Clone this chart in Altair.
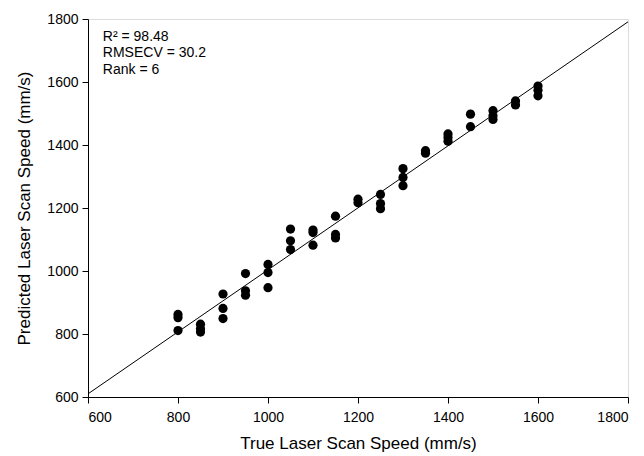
import altair as alt
import pandas as pd

true_speed = [800, 800, 800, 850, 850, 850, 900, 900, 900, 950, 950, 950,
              1000, 1000, 1000, 1050, 1050, 1050, 1100, 1100, 1100, 1150, 1150, 1150,
              1200, 1200, 1250, 1250, 1250, 1300, 1300, 1300, 1350, 1350,
              1400, 1400, 1400, 1450, 1450, 1500, 1500, 1500, 1550, 1550,
              1600, 1600, 1600]
pred_speed = [862, 852, 811, 831, 817, 806, 927, 881, 849, 992, 937, 923,
              1021, 995, 947, 1133, 1096, 1068, 1130, 1122, 1082, 1174, 1116, 1105,
              1228, 1217, 1243, 1214, 1198, 1325, 1297, 1271, 1382, 1374,
              1435, 1424, 1412, 1498, 1458, 1509, 1493, 1481, 1540, 1527,
              1587, 1574, 1556]

line_x = [600, 1800]
line_y = [610, 1791]

notes = ["R² = 98.48", "RMSECV = 30.2", "Rank = 6"]
note_x = [633, 633, 633]
note_y = [1743, 1692, 1638]

FONT = "Liberation Sans"

pts = pd.DataFrame({"x": true_speed, "y": pred_speed})
ln = pd.DataFrame({"x": line_x, "y": line_y})
nt = pd.DataFrame({"x": note_x, "y": note_y, "t": notes})

xs = alt.Scale(domain=[600, 1800], nice=False, zero=False)
ys = alt.Scale(domain=[600, 1800], nice=False, zero=False)

xaxis = alt.Axis(values=[600, 800, 1000, 1200, 1400, 1600, 1800], format="d",
                 title="True Laser Scan Speed (mm/s)",
                 grid=False, domainColor="black", tickColor="black", tickSize=6,
                 labelFont=FONT, labelFontSize=14, labelColor="black", labelPadding=7,
                 titleFont=FONT, titleFontSize=17, titleFontWeight="normal", titleColor="black",
                 titlePadding=11)
yaxis = alt.Axis(values=[600, 800, 1000, 1200, 1400, 1600, 1800], format="d",
                 title="Predicted Laser Scan Speed (mm/s)",
                 grid=False, domainColor="black", tickColor="black", tickSize=6,
                 labelFont=FONT, labelFontSize=14, labelColor="black", labelPadding=4,
                 titleFont=FONT, titleFontSize=17, titleFontWeight="normal", titleColor="black",
                 titlePadding=13)

line = alt.Chart(ln).mark_line(color="black", strokeWidth=1).encode(
    x=alt.X("x:Q", scale=xs, axis=xaxis),
    y=alt.Y("y:Q", scale=ys, axis=yaxis),
)
points = alt.Chart(pts).mark_circle(color="black", opacity=1, size=85).encode(
    x=alt.X("x:Q", scale=xs),
    y=alt.Y("y:Q", scale=ys),
)
text = alt.Chart(nt).mark_text(align="left", baseline="middle", font=FONT, fontSize=14, color="black").encode(
    x=alt.X("x:Q", scale=xs),
    y=alt.Y("y:Q", scale=ys),
    text="t:N",
)

chart = alt.layer(line, points, text).properties(
    width=540, height=378,
    padding={"left": 80, "top": 11, "right": 8, "bottom": 60},
    autosize=alt.AutoSizeParams(type="none"),
).configure_view(stroke="black", strokeWidth=1).configure(background="white")

chart.save("out.html", embed_options={"renderer": "svg", "actions": False})
